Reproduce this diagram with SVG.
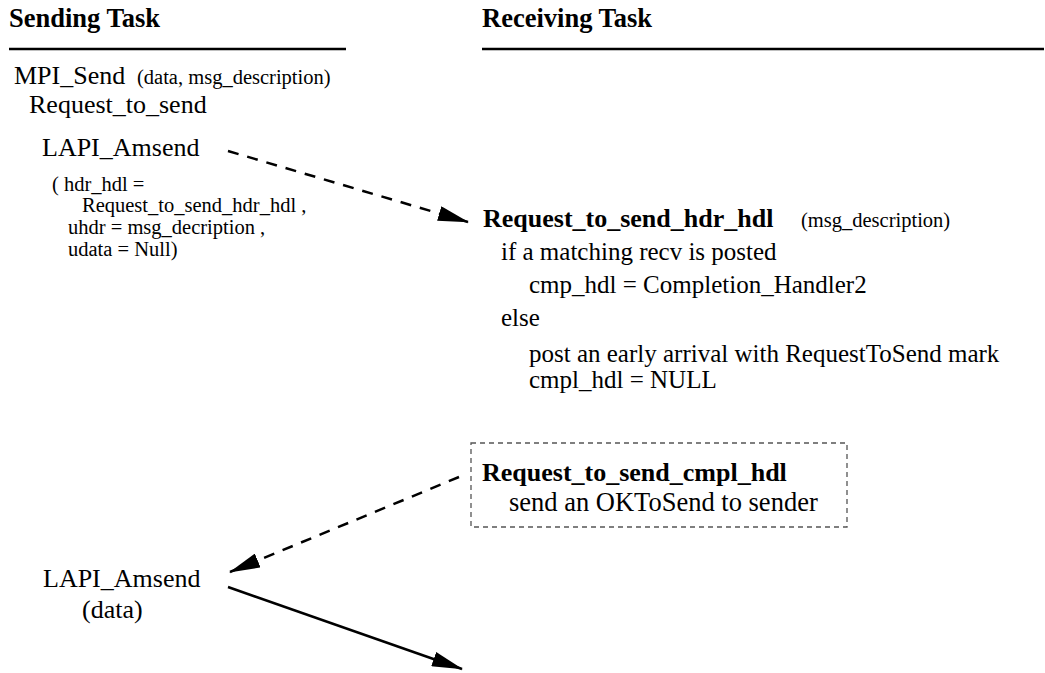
<svg xmlns="http://www.w3.org/2000/svg" width="1045" height="673" viewBox="0 0 1045 673" font-family="'Liberation Serif', 'Times New Roman', Times, serif">
<style>
text{font-family:'Liberation Serif','Times New Roman',Times,serif;fill:#000}
.h{font-size:26.5px;font-weight:bold}
.m{font-size:26px}
.r{font-size:25px}
.k{font-size:26.5px}
.b{font-size:26px;font-weight:bold}
.s{font-size:20.5px}
.rule{stroke:#000;stroke-width:2.3}
.dash{fill:none;stroke:#000;stroke-width:2.5;stroke-dasharray:11 9}
.solid{fill:none;stroke:#000;stroke-width:2.5}
.box{fill:none;stroke:#555;stroke-width:1.3;stroke-dasharray:5 4}
</style>
<defs>
<marker id="ah" markerUnits="userSpaceOnUse" markerWidth="31" markerHeight="15" viewBox="0 0 31 15" refX="30" refY="7.5" orient="auto">
<path d="M0,0 L31,7.5 L0,15 Z" fill="#000"/>
</marker>
</defs>
<rect width="1045" height="673" fill="#fff"/>
<g id="headers">
<text class="h" x="9" y="27">Sending Task</text>
<line class="rule" x1="9" y1="49" x2="346" y2="49"/>
<text class="h" x="482" y="27">Receiving Task</text>
<line class="rule" x1="482" y1="49" x2="1044" y2="49"/>
</g>
<g id="sender1">
<text class="m" x="14" y="84">MPI_Send</text>
<text class="s" x="137" y="84">(data, msg_description)</text>
<text class="m" x="29" y="113">Request_to_send</text>
<text class="m" x="42" y="156">LAPI_Amsend</text>
<text class="s" x="52" y="191">( hdr_hdl =</text>
<text class="s" x="82" y="212">Request_to_send_hdr_hdl ,</text>
<text class="s" x="68" y="234">uhdr = msg_decription ,</text>
<text class="s" x="68" y="256">udata = Null)</text>
</g>
<g id="receiver1">
<text class="b" x="483" y="227">Request_to_send_hdr_hdl</text>
<text class="s" x="801" y="227">(msg_description)</text>
<text class="r" x="501" y="260">if a matching recv is posted</text>
<text class="r" x="529" y="293">cmp_hdl = Completion_Handler2</text>
<text class="r" x="501" y="326">else</text>
<text class="r" x="529" y="362">post an early arrival with RequestToSend mark</text>
<text class="r" x="529" y="388">cmpl_hdl = NULL</text>
</g>
<g id="receiver2">
<rect class="box" x="471" y="443" width="376" height="84"/>
<text class="b" x="482" y="481">Request_to_send_cmpl_hdl</text>
<text class="k" x="509" y="511">send an OKToSend to sender</text>
</g>
<g id="sender2">
<text class="m" x="43" y="587">LAPI_Amsend</text>
<text class="m" x="82" y="618">(data)</text>
</g>
<g id="connectors">
<line class="dash" x1="228" y1="151" x2="468" y2="222" marker-end="url(#ah)"/>
<line class="dash" x1="459" y1="477" x2="230" y2="572" marker-end="url(#ah)"/>
<line class="solid" x1="228" y1="587" x2="462" y2="669" marker-end="url(#ah)"/>
</g>
</svg>
